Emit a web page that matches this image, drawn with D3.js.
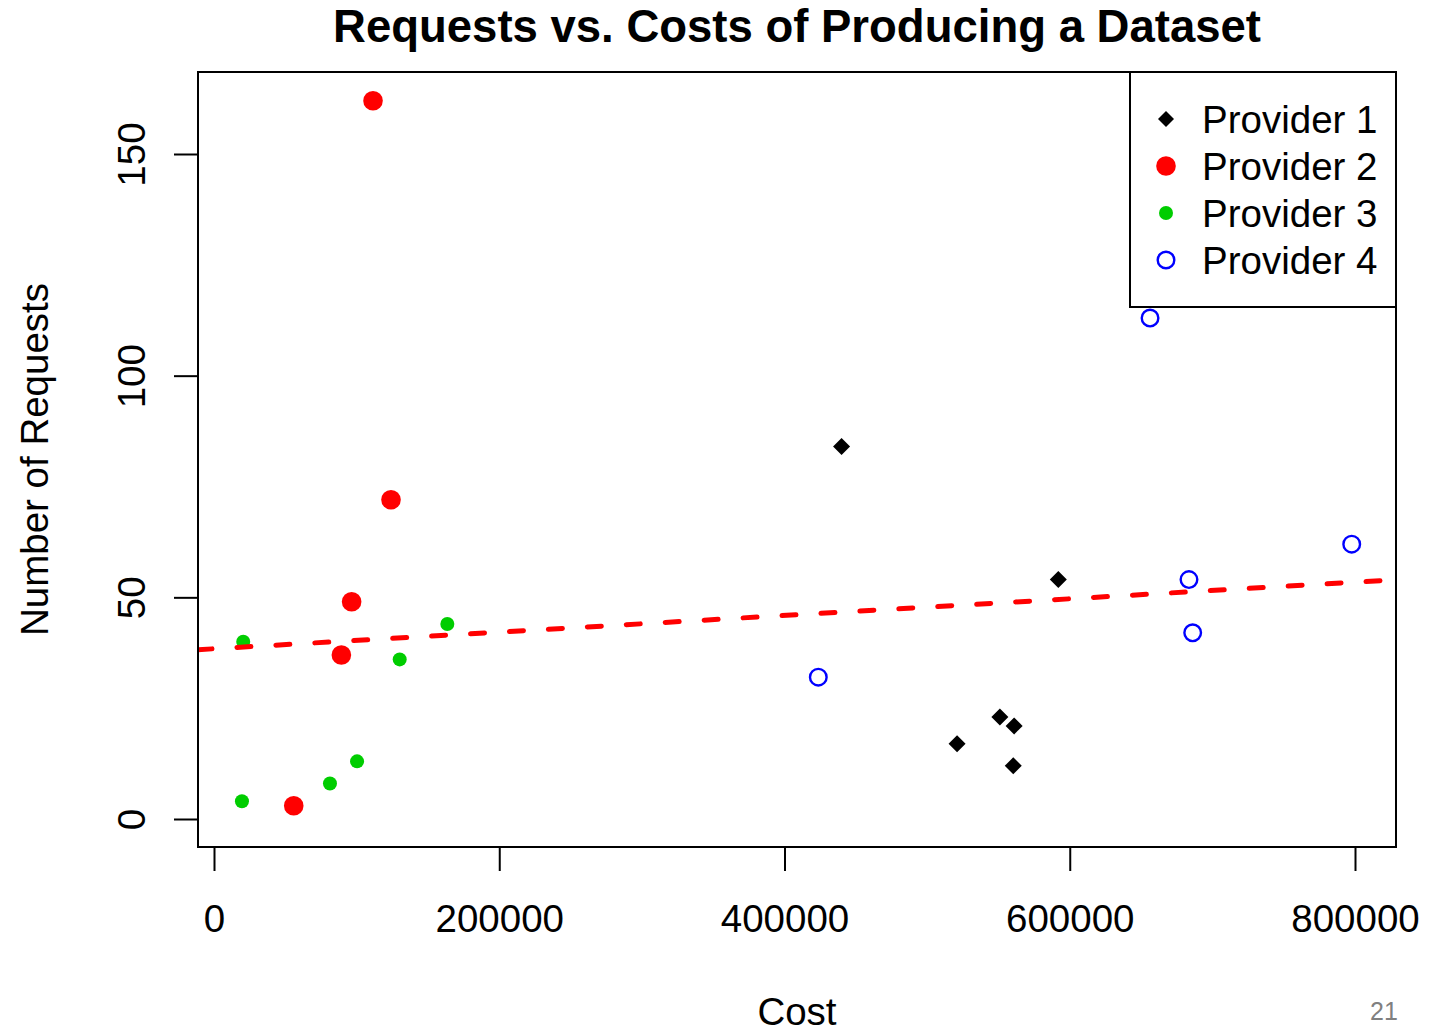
<!DOCTYPE html>
<html>
<head>
<meta charset="utf-8">
<script src="https://cdn.jsdelivr.net/npm/d3@7"></script>
<style>
  html, body { margin: 0; padding: 0; background: #fff; }
  svg { display: block; }
  text { font-family: "Liberation Sans", Arial, Helvetica, sans-serif; }
</style>
</head>
<body>
<svg id="chart" width="1448" height="1029"></svg>
<script>
// ---- Data ----
const provider1Cost = [440000, 592000, 551000, 561000, 521000, 560400];
const provider1Requests = [84, 54, 23, 21, 17, 12];

const provider2Cost = [111500, 124100, 96500, 89300, 55900];
const provider2Requests = [162, 72, 49, 37, 3];

const provider3Cost = [20500, 19600, 81300, 100300, 130200, 163600];
const provider3Requests = [40, 4, 8, 13, 36, 44];

const provider4Cost = [423700, 656300, 683600, 686200, 797700];
const provider4Requests = [32, 113, 54, 42, 62];

const seriesNames = ["Provider 1", "Provider 2", "Provider 3", "Provider 4"];
const xTicks = [0, 200000, 400000, 600000, 800000];
const yTicks = [0, 50, 100, 150];

// fitted regression line (Requests ~ Cost)
const fitIntercept = 38.4;
const fitSlope = 1.878e-5;

const titleText = "Requests vs. Costs of Producing a Dataset";
const xLabel = "Cost";
const yLabel = "Number of Requests";
const pageNumber = "21";

// ---- Layout ----
const svg = d3.select("#chart");
const box = { left: 198, right: 1396, top: 72, bottom: 847 };

const x = d3.scaleLinear().domain([0, 800000]).range([214, 1355]);
const y = d3.scaleLinear().domain([0, 150]).range([819, 154]);

const styles = [
  { shape: "diamond", fill: "#000", stroke: "none", size: 8.5 },
  { shape: "circle", fill: "#ff0000", stroke: "none", size: 9.8 },
  { shape: "circle", fill: "#00cd00", stroke: "none", size: 7 },
  { shape: "circle", fill: "none", stroke: "#0000ff", size: 8.3 }
];

const series = [
  provider1Cost.map((c, i) => ({ c, r: provider1Requests[i] })),
  provider2Cost.map((c, i) => ({ c, r: provider2Requests[i] })),
  provider3Cost.map((c, i) => ({ c, r: provider3Requests[i] })),
  provider4Cost.map((c, i) => ({ c, r: provider4Requests[i] }))
];

function drawMarker(g, st, cx, cy) {
  if (st.shape === "diamond") {
    const s = st.size;
    g.append("path")
      .attr("d", `M${cx},${cy - s}L${cx + s},${cy}L${cx},${cy + s}L${cx - s},${cy}Z`)
      .attr("fill", st.fill);
  } else {
    g.append("circle")
      .attr("cx", cx).attr("cy", cy).attr("r", st.size)
      .attr("fill", st.fill)
      .attr("stroke", st.stroke)
      .attr("stroke-width", st.stroke === "none" ? 0 : 2.4);
  }
}

// clip
svg.append("clipPath").attr("id", "plotclip")
  .append("rect")
  .attr("x", box.left).attr("y", box.top)
  .attr("width", box.right - box.left).attr("height", box.bottom - box.top);

// points
const pts = svg.append("g");
series.forEach((data, si) => {
  const g = pts.append("g");
  data.forEach(d => drawMarker(g, styles[si], x(d.c), y(d.r)));
});

// regression line
const xDom = [x.invert(box.left), x.invert(box.right)];
svg.append("line")
  .attr("clip-path", "url(#plotclip)")
  .attr("x1", x(xDom[0])).attr("y1", y(fitIntercept + fitSlope * xDom[0]))
  .attr("x2", x(xDom[1])).attr("y2", y(fitIntercept + fitSlope * xDom[1]))
  .attr("stroke", "#ff0000")
  .attr("stroke-width", 5)
  .attr("stroke-linecap", "round")
  .attr("stroke-dasharray", "14 25");

// box
svg.append("rect")
  .attr("x", box.left).attr("y", box.top)
  .attr("width", box.right - box.left).attr("height", box.bottom - box.top)
  .attr("fill", "none").attr("stroke", "#000").attr("stroke-width", 2);

// x axis
const xAxis = d3.axisBottom(x).tickValues(xTicks).tickSize(24).tickPadding(34)
  .tickFormat(d3.format("d"));
const gx = svg.append("g").attr("transform", `translate(0,${box.bottom})`).call(xAxis);
gx.select(".domain").attr("stroke-width", 2).attr("d", `M${x(0)},0H${x(800000)}`);
gx.selectAll(".tick line").attr("stroke-width", 2);
gx.selectAll(".tick text").attr("font-size", 38.5).attr("fill", "#000")
  .attr("font-family", "Liberation Sans, Arial, sans-serif");

// y axis
const yAxis = d3.axisLeft(y).tickValues(yTicks).tickSize(24).tickPadding(0);
const gy = svg.append("g").attr("transform", `translate(${box.left},0)`).call(yAxis);
gy.select(".domain").attr("stroke-width", 2).attr("d", `M0,${y(0)}V${y(150)}`);
gy.selectAll(".tick line").attr("stroke-width", 2);
gy.selectAll(".tick text")
  .attr("font-size", 38.5).attr("fill", "#000")
  .attr("font-family", "Liberation Sans, Arial, sans-serif")
  .attr("x", null).attr("dy", null)
  .attr("text-anchor", "middle")
  .attr("transform", function () { return `translate(${145 - box.left},0) rotate(-90)`; });

// title
svg.append("text")
  .attr("x", 797).attr("y", 42)
  .attr("text-anchor", "middle")
  .attr("font-weight", "bold").attr("font-size", 45.5)
  .text(titleText);

// axis labels
svg.append("text")
  .attr("x", 797).attr("y", 1025)
  .attr("text-anchor", "middle").attr("font-size", 38.5)
  .text(xLabel);
svg.append("text")
  .attr("transform", `translate(48,${(box.top + box.bottom) / 2}) rotate(-90)`)
  .attr("text-anchor", "middle").attr("font-size", 38.5)
  .text(yLabel);

// legend
const leg = svg.append("g");
leg.append("rect")
  .attr("x", 1130).attr("y", box.top)
  .attr("width", box.right - 1130).attr("height", 307 - box.top)
  .attr("fill", "#fff").attr("stroke", "#000").attr("stroke-width", 2);
const legRows = [119, 166, 213, 260];
const legStyles = [
  Object.assign({}, styles[0], { size: 8 }),
  styles[1], styles[2], styles[3]
];
seriesNames.forEach((name, i) => {
  drawMarker(leg, legStyles[i], 1166, legRows[i]);
  leg.append("text")
    .attr("x", 1202).attr("y", legRows[i] + 14)
    .attr("font-size", 38.5)
    .text(name);
});

// page number
svg.append("text")
  .attr("x", 1384).attr("y", 1020)
  .attr("text-anchor", "middle")
  .attr("font-family", "Noto Sans, Open Sans, sans-serif")
  .attr("font-size", 25).attr("fill", "#808080")
  .text(pageNumber);
</script>
</body>
</html>
